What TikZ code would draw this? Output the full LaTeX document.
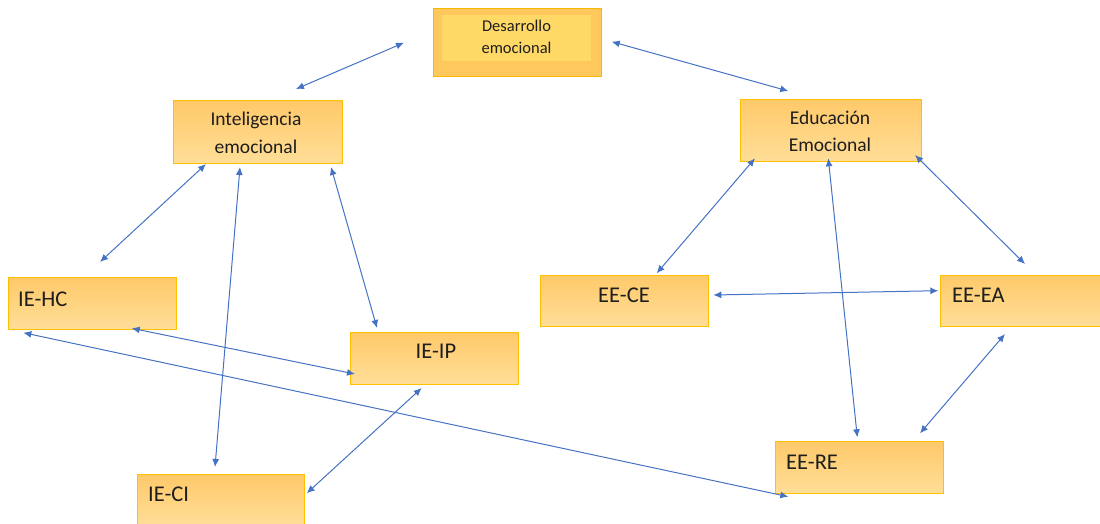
\documentclass[tikz,border=0pt]{standalone}
\usepackage{fontspec}
\setmainfont{Carlito}
\usetikzlibrary{arrows.meta,calc}
\definecolor{boxtop}{RGB}{255,201,105}
\definecolor{boxbot}{RGB}{255,222,152}
\definecolor{boxline}{RGB}{255,192,0}
\definecolor{desout}{RGB}{255,200,92}
\definecolor{desin}{RGB}{255,217,102}
\definecolor{desline}{RGB}{245,184,0}
\definecolor{arrowblue}{RGB}{68,114,196}
\definecolor{txt}{RGB}{30,30,30}
\tikzset{
  ibox/.style={draw=boxline, line width=1pt, top color=boxtop, bottom color=boxbot, inner sep=0pt},
  desbox/.style={draw=desline, line width=1pt, fill=desout, inner sep=0pt},
  desinner/.style={fill=desin, inner sep=0pt},
  lbl/.style={text=txt, inner sep=0pt, anchor=base},
  lbll/.style={text=txt, inner sep=0pt, anchor=base west},
  big/.style={font=\fontsize{22.5}{27}\selectfont},
  mid/.style={font=\fontsize{19.5}{27}\selectfont},
  small/.style={font=\fontsize{16.5}{22}\selectfont},
  conn/.style={draw=arrowblue, line width=1pt, {Latex[length=8pt,width=7pt]}-{Latex[length=8pt,width=7pt]}}
}
\begin{document}
\begin{tikzpicture}[x=1pt,y=-1pt]
\useasboundingbox (0,0) rectangle (1100,524);
% boxes
\node[desbox, minimum width=168pt, minimum height=68pt] (des) at (517,43) {};
\node[desinner, minimum width=149pt, minimum height=46pt] (desi) at (516.5,38) {};
\node[ibox, minimum width=169pt, minimum height=62pt] (ie) at (257.5,132) {};
\node[ibox, minimum width=181.5pt, minimum height=62pt] (ee) at (830.75,130.5) {};
\node[ibox, minimum width=168pt, minimum height=52pt] (hc) at (92,303) {};
\node[ibox, minimum width=168pt, minimum height=52pt] (ip) at (434,358) {};
\node[ibox, minimum width=167pt, minimum height=52pt] (ci) at (220.5,500) {};
\node[ibox, minimum width=168pt, minimum height=51pt] (ce) at (624,300.5) {};
\node[ibox, minimum width=160pt, minimum height=51pt] (ea) at (1020,300.5) {};
\node[ibox, minimum width=168pt, minimum height=52pt] (re) at (859,467) {};
% texts
\node[lbl, small] (des1) at (516.5,31.7) {Desarrollo};
\node[lbl, small] (des2) at (516.5,54) {emocional};
\node[lbl, mid] (ie1) at (256,126) {Inteligencia};
\node[lbl, mid] (ie2) at (256,153.3) {emocional};
\node[lbl, mid] (ee1) at (830,124.3) {Educación};
\node[lbl, mid] (ee2) at (830,151.7) {Emocional};
\node[lbll, big] (hct) at (18,306) {IE-HC};
\node[lbl, big] (ipt) at (436,358.3) {IE-IP};
\node[lbll, big] (cit) at (148,501.7) {IE-CI};
\node[lbl, big] (cet) at (624,302.3) {EE-CE};
\node[lbll, big] (eat) at (952,302.3) {EE-EA};
\node[lbll, big] (ret) at (786,469) {EE-RE};
% connectors
\draw[conn] ($(des.center)+(-113,-0.3)$) -- ($(ie.center)+(38.5,-43)$);
\draw[conn] ($(des.center)+(94.7,-1.3)$) -- ($(ee.center)+(-42.5,-39.5)$);
\draw[conn] ($(ie.center)+(-51.5,32)$) -- ($(hc.center)+(8,-41)$);
\draw[conn] ($(ie.center)+(-17.5,35)$) -- ($(ci.center)+(-5.5,-33)$);
\draw[conn] ($(ie.center)+(73.5,35)$) -- ($(ip.center)+(-57,-30)$);
\draw[conn] ($(hc.center)+(39.7,25.3)$) -- ($(ip.center)+(-79,16)$);
\draw[conn] ($(hc.center)+(-68.7,29.7)$) -- ($(re.center)+(-70.7,29.7)$);
\draw[conn] ($(ip.center)+(-12.3,30)$) -- ($(ci.center)+(86.2,-6.7)$);
\draw[conn] ($(ee.center)+(-75.75,27.8)$) -- ($(ce.center)+(32.7,-27.2)$);
\draw[conn] ($(ee.center)+(-2.45,27.8)$) -- ($(re.center)+(-1.7,-29.7)$);
\draw[conn] ($(ee.center)+(84.25,24.5)$) -- ($(ea.center)+(5,-36.5)$);
\draw[conn] ($(ce.center)+(89.3,-5.5)$) -- ($(ea.center)+(-81.7,-9.8)$);
\draw[conn] ($(ea.center)+(-15,33.5)$) -- ($(re.center)+(61,-33.7)$);
\end{tikzpicture}
\end{document}
